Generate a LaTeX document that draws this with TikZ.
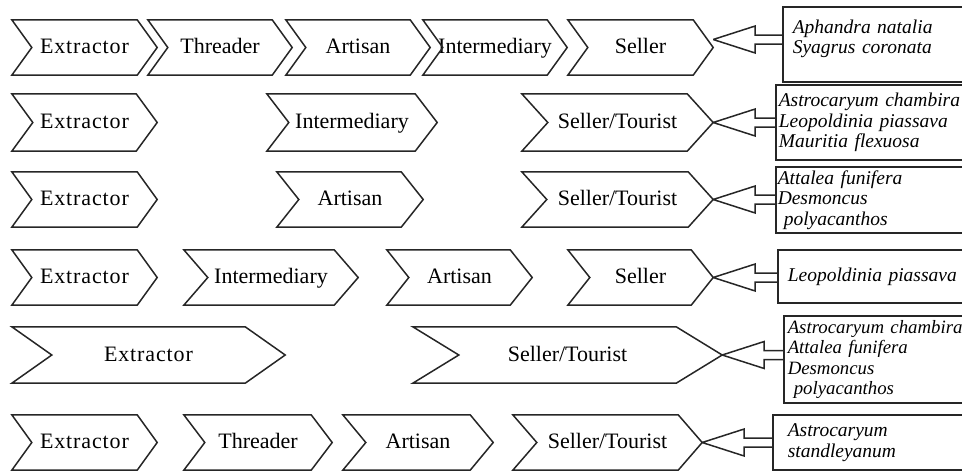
\documentclass[tikz,border=0pt]{standalone}
\usepackage{fontspec}
\setmainfont{Liberation Serif}
\newfontfamily\widefont[LetterSpace=4]{Liberation Serif}
\usetikzlibrary{calc}

\tikzset{
  chev/.style={minimum height=55pt, inner sep=0pt, text height=17pt, text depth=4.5pt,
    font=\fontsize{22}{26}\selectfont},
  chevline/.style={draw=black!85, line width=1.5pt, line join=miter},
  palmbox/.style={draw=black!85, line width=1.5pt, anchor=west, align=left,
    text width=230pt, font=\fontsize{19.5}{20.5}\selectfont\itshape},
}

% hollow arrow from a box to the tip of a chevron
\newcommand\palmarrow[3][0]{%
  \draw[chevline] ($(#3.east)+(0,#1)$) coordinate (tip) -- ++(42,-13.5) -- ++(0,9)
    -- ($(tip -| #2.west)+(0,-4.5)$)
    ($(tip -| #2.west)+(0,4.5)$) -- ($(tip)+(42,4.5)$) -- ++(0,9) -- (tip);
}

\begin{document}
\begin{tikzpicture}[x=1pt,y=-1pt]
    \useasboundingbox (0,0) rectangle (962,472);
    % row 1
    \node[chev, minimum width=145pt] (e1) at (84.5,47.5) {\widefont Extractor};
    \node[chev, minimum width=144pt] (th1) at (220,47.5) {Threader};
    \node[chev, minimum width=144pt] (a1) at (358,47.5) {Artisan};
    \node[chev, minimum width=144pt] (i1) at (495,47.5) {Intermediary};
    \node[chev, minimum width=145pt] (s1) at (640.5,47.5) {Seller};
    % row 2
    \node[chev, minimum width=145pt, minimum height=57pt] (e2) at (84.5,122.5) {\widefont Extractor};
    \node[chev, minimum width=170pt, minimum height=57pt] (i2) at (352,122.5) {Intermediary};
    \node[chev, minimum width=191pt, minimum height=57pt] (s2) at (617.5,122.5) {Seller/Tourist};
    % row 3
    \node[chev, minimum width=145pt] (e3) at (84.5,199.5) {\widefont Extractor};
    \node[chev, minimum width=146pt] (a3) at (350,199.5) {Artisan};
    \node[chev, minimum width=191pt] (s3) at (617.5,199.5) {Seller/Tourist};
    % row 4
    \node[chev, minimum width=145pt] (e4) at (84.5,277.5) {\widefont Extractor};
    \node[chev, minimum width=174pt] (i4) at (271,277.5) {Intermediary};
    \node[chev, minimum width=145pt] (a4) at (459.5,277.5) {Artisan};
    \node[chev, minimum width=145pt] (s4) at (640.5,277.5) {Seller};
    % row 5
    \node[chev, minimum width=273pt, minimum height=56pt] (e5) at (148.5,355) {\widefont Extractor};
    \node[chev, minimum width=309pt, minimum height=56pt] (s5) at (567.5,355) {Seller/Tourist};
    % row 6
    \node[chev, minimum width=145pt] (e6) at (84.5,442.5) {\widefont Extractor};
    \node[chev, minimum width=148pt] (th6) at (258,442.5) {Threader};
    \node[chev, minimum width=150pt] (a6) at (418,442.5) {Artisan};
    \node[chev, minimum width=189pt] (s6) at (607.5,442.5) {Seller/Tourist};

    \foreach \n/\d in {e1/20,th1/20,a1/20,i1/20,s1/20,e2/21,i2/22,s2/26,
        e3/20,a3/22,s3/25,e4/20,i4/24,a4/22,s4/22,e5/40,s5/46,
        e6/20,th6/21,a6/23,s6/24}
        \draw[chevline] (\n.north west) -- ([xshift=\d]\n.west) -- (\n.south west)
            -- ([xshift=-\d]\n.south east) -- (\n.east) -- ([xshift=-\d]\n.north east) -- cycle;

    % palm species
    \node[palmbox, minimum height=75pt, inner xsep=10pt, text depth=36pt] (b1) at (782,44.5)
        {Aphandra natalia\\Syagrus coronata};
    \node[palmbox, minimum height=75pt, inner xsep=3pt] (b2) at (775,122.5)
        {Astrocaryum chambira\\Leopoldinia piassava\\Mauritia flexuosa};
    \node[palmbox, minimum height=64pt, inner xsep=2pt] (b3) at (775,200)
        {Attalea funifera\\Desmoncus\\\hspace*{6pt}polyacanthos};
    \node[palmbox, minimum height=53pt, inner xsep=10pt] (b4) at (777,276.5)
        {Leopoldinia piassava};
    \node[palmbox, minimum height=87pt, inner xsep=4pt,
        font=\fontsize{18.8}{20.2}\selectfont\itshape] (b5) at (783,359.5)
        {Astrocaryum chambira\\Attalea funifera\\Desmoncus\\\hspace*{6pt}polyacanthos};
    \node[palmbox, minimum height=55pt, inner xsep=15pt] (b6) at (772,442.5)
        {Astrocaryum\\standleyanum};

    \palmarrow[-8]{b1}{s1}
    \palmarrow{b2}{s2}
    \palmarrow{b3}{s3}
    \palmarrow{b4}{s4}
    \palmarrow{b5}{s5}
    \palmarrow{b6}{s6}
\end{tikzpicture}
\end{document}
